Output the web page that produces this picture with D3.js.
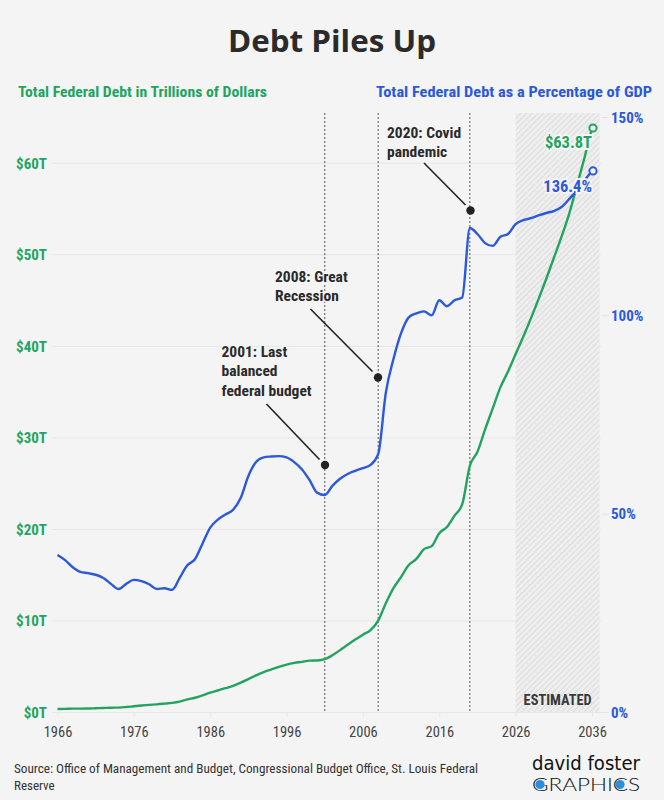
<!DOCTYPE html>
<html>
<head>
<meta charset="utf-8">
<script src="https://cdn.jsdelivr.net/npm/d3@7"></script>
<style>
  html, body { margin: 0; padding: 0; background: #f4f4f4; }
  svg { display: block; }
</style>
</head>
<body>
<script>
// ---------- DATA ----------
const years = d3.range(1966, 2037);
const debtTrillions = [
  0.32, 0.34, 0.37, 0.37, 0.38, 0.41, 0.44, 0.47, 0.48, 0.54,
  0.63, 0.71, 0.78, 0.83, 0.91, 1.00, 1.14, 1.37, 1.56, 1.82,
  2.12, 2.35, 2.60, 2.86, 3.21, 3.60, 4.00, 4.35, 4.64, 4.92,
  5.18, 5.37, 5.48, 5.61, 5.63, 5.77, 6.20, 6.76, 7.35, 7.91,
  8.45, 8.95, 9.99, 11.88, 13.53, 14.76, 16.05, 16.72, 17.79, 18.12,
  19.54, 20.21, 21.46, 22.67, 26.90, 28.43, 30.87, 33.17, 35.46, 37.2,
  39.1, 41.0, 43.0, 45.1, 47.3, 49.6, 51.9, 54.4, 57.4, 60.5,
  63.8
];
const debtPctGDP = [
  39.6, 38.3, 36.5, 35.3, 35.0, 34.6, 33.8, 32.3, 31.0, 32.3,
  33.3, 33.0, 32.2, 31.0, 31.2, 30.8, 33.8, 37.0, 38.5, 42.5,
  46.5, 48.5, 49.8, 51.0, 54.0, 59.5, 63.0, 64.2, 64.4, 64.5,
  64.2, 63.0, 61.2, 58.5, 55.3, 54.7, 57.0, 58.8, 60.0, 60.8,
  61.5, 62.3, 65.0, 80.5, 89.0, 95.5, 99.5, 100.5, 101.0, 100.0,
  103.8, 102.3, 103.8, 104.5, 122.0, 120.5, 118.2, 117.5, 119.8, 120.5,
  123.0, 124.0, 124.5, 125.2, 125.8, 126.3, 127.3, 129.3, 131.5, 134.0,
  136.4
];
const xTicks = [1966, 1976, 1986, 1996, 2006, 2016, 2026, 2036];
const leftTicks = [0, 10, 20, 30, 40, 50, 60];
const rightTicks = [0, 50, 100, 150];
const estimatedRange = [2026, 2037];
const events = [
  { year: 2001, lines: ["2001: Last", "balanced", "federal budget"] },
  { year: 2008, lines: ["2008: Great", "Recession"] },
  { year: 2020, lines: ["2020: Covid", "pandemic"] }
];
const endLabels = { debt: "$63.8T", pct: "136.4%" };

// ---------- SETUP ----------
const W = 664, H = 800;
const BG = "#f4f4f4";
const GREEN = "#23a45e", BLUE = "#2c58dc", DARK = "#2b2b2b";
const COND = "'Roboto Condensed','Liberation Sans Narrow','DejaVu Sans Condensed',sans-serif";

const svg = d3.select("body").append("svg").attr("width", W).attr("height", H);
svg.append("rect").attr("width", W).attr("height", H).attr("fill", BG);

const x = d3.scaleLinear().domain([1966, 2036]).range([57.5, 592]);
const yL = d3.scaleLinear().domain([0, 65]).range([712, 117]);
const yR = d3.scaleLinear().domain([0, 150]).range([712, 117]);
const plotTop = 113, plotLeft = 52, plotRight = 601;

// pattern for estimated band
const defs = svg.append("defs");
const pat = defs.append("pattern").attr("id", "hatch").attr("patternUnits", "userSpaceOnUse")
  .attr("width", 4).attr("height", 4).attr("patternTransform", "rotate(45)");
pat.append("rect").attr("width", 4).attr("height", 4).attr("fill", "#eeeeee");
pat.append("line").attr("x1", 0).attr("y1", 0).attr("x2", 0).attr("y2", 4)
  .attr("stroke", "#d2d2d2").attr("stroke-width", 1.3);

// Title
svg.append("text").attr("x", W / 2).attr("y", 52).attr("text-anchor", "middle")
  .attr("font-family", "'Open Sans',sans-serif").attr("font-weight", 700)
  .attr("font-size", 31).attr("fill", DARK)
  .attr("textLength", 208).attr("lengthAdjust", "spacingAndGlyphs")
  .text("Debt Piles Up");

// Subtitles
svg.append("text").attr("x", 18).attr("y", 97).attr("font-family", COND)
  .attr("font-weight", 700).attr("font-size", 15.5).attr("fill", GREEN)
  .attr("textLength", 249).attr("lengthAdjust", "spacingAndGlyphs")
  .text("Total Federal Debt in Trillions of Dollars");
svg.append("text").attr("x", 652).attr("y", 97).attr("text-anchor", "end").attr("font-family", COND)
  .attr("font-weight", 700).attr("font-size", 15.5).attr("fill", BLUE)
  .attr("textLength", 276).attr("lengthAdjust", "spacingAndGlyphs")
  .text("Total Federal Debt as a Percentage of GDP");

// Gridlines (left axis)
const gridG = svg.append("g")
  .attr("transform", `translate(${plotRight},0)`)
  .call(d3.axisLeft(yL).tickValues(leftTicks).tickSize(plotRight - plotLeft).tickFormat(""));
gridG.select(".domain").remove();
gridG.selectAll("line").attr("stroke", "#e6e6e6").attr("stroke-width", 1);

// Estimated band
svg.append("rect")
  .attr("x", x(estimatedRange[0])).attr("y", plotTop)
  .attr("width", x(estimatedRange[1]) - x(estimatedRange[0]))
  .attr("height", yL(0) - plotTop)
  .attr("fill", "url(#hatch)");
svg.append("text").attr("x", (x(estimatedRange[0]) + x(estimatedRange[1])) / 2).attr("y", 705)
  .attr("text-anchor", "middle").attr("font-family", COND).attr("font-weight", 700)
  .attr("font-size", 14).attr("fill", "#3a3a3a")
  .attr("textLength", 68).attr("lengthAdjust", "spacingAndGlyphs")
  .text("ESTIMATED");

// Left axis labels
const leftAx = svg.append("g").attr("transform", "translate(47,0)")
  .call(d3.axisLeft(yL).tickValues(leftTicks).tickSize(0).tickPadding(0).tickFormat(d => `$${d}T`));
leftAx.select(".domain").remove();
leftAx.selectAll("text").attr("font-family", COND).attr("font-weight", 700)
  .attr("font-size", 15).attr("fill", GREEN).attr("dy", "0.35em");

// Right axis
const rightAx = svg.append("g").attr("transform", `translate(${plotRight},0)`)
  .call(d3.axisRight(yR).tickValues(rightTicks).tickSize(8).tickPadding(2).tickFormat(d => `${d}%`));
rightAx.select(".domain").remove();
rightAx.selectAll("line").attr("stroke", "#e4e4e4");
rightAx.selectAll("text").attr("font-family", COND).attr("font-weight", 700)
  .attr("font-size", 15).attr("fill", BLUE).attr("dy", "0.35em");

// X axis
const xAx = svg.append("g").attr("transform", `translate(0,${yL(0)})`)
  .call(d3.axisBottom(x).tickValues(xTicks).tickSize(5).tickPadding(10).tickFormat(d3.format("d")));
xAx.select(".domain").remove();
xAx.selectAll("line").attr("stroke", "#e8e8e8");
xAx.selectAll("text").attr("font-family", COND).attr("font-size", 14.5).attr("fill", "#444");

// Event dotted lines
svg.append("g").selectAll("line").data(events).join("line")
  .attr("x1", d => x(d.year)).attr("x2", d => x(d.year))
  .attr("y1", plotTop).attr("y2", yL(0))
  .attr("stroke", "#555").attr("stroke-width", 1).attr("stroke-dasharray", "2,2");

// Lines
const lineDebt = d3.line().x((d, i) => x(years[i])).y(d => yL(d)).curve(d3.curveMonotoneX);
const linePct = d3.line().x((d, i) => x(years[i])).y(d => yR(d)).curve(d3.curveMonotoneX);
svg.append("path").datum(debtTrillions).attr("d", lineDebt)
  .attr("fill", "none").attr("stroke", GREEN).attr("stroke-width", 2.4).attr("stroke-linejoin", "round");
svg.append("path").datum(debtPctGDP).attr("d", linePct)
  .attr("fill", "none").attr("stroke", BLUE).attr("stroke-width", 2.4).attr("stroke-linejoin", "round");

// Annotations
const annPos = {
  2001: { tx: 221.5, ty: 356.5, lh: 19.5, l: [266.5, 404, 319.5, 459.5], dot: [325, 465] },
  2008: { tx: 275, ty: 281.5, lh: 19.5, l: [310.5, 309, 372.5, 371.5], dot: [378, 377.5] },
  2020: { tx: 387, ty: 137.5, lh: 19.5, l: [424, 163, 465.5, 205], dot: [470.5, 210.5] }
};
events.forEach(ev => {
  const p = annPos[ev.year];
  const t = svg.append("text").attr("font-family", COND).attr("font-weight", 700)
    .attr("font-size", 15.5).attr("fill", "#2a2a2a")
    .attr("stroke", BG).attr("stroke-width", 3).attr("paint-order", "stroke");
  ev.lines.forEach((ln, i) => {
    t.append("tspan").attr("x", p.tx).attr("y", p.ty + i * p.lh).text(ln);
  });
  svg.append("line").attr("x1", p.l[0]).attr("y1", p.l[1]).attr("x2", p.l[2]).attr("y2", p.l[3])
    .attr("stroke", "#222").attr("stroke-width", 1.6);
  svg.append("circle").attr("cx", p.dot[0]).attr("cy", p.dot[1]).attr("r", 4.2).attr("fill", "#222");
});

// End labels
const lastI = years.length - 1;
svg.append("text").attr("x", 592).attr("y", 148).attr("text-anchor", "end")
  .attr("font-family", COND).attr("font-weight", 700).attr("font-size", 16.5).attr("fill", GREEN)
  .attr("stroke", BG).attr("stroke-width", 4).attr("paint-order", "stroke")
  .text(endLabels.debt);
svg.append("text").attr("x", 592).attr("y", 192).attr("text-anchor", "end")
  .attr("font-family", COND).attr("font-weight", 700).attr("font-size", 16.5).attr("fill", BLUE)
  .attr("stroke", BG).attr("stroke-width", 4).attr("paint-order", "stroke")
  .text(endLabels.pct);
svg.append("circle").attr("cx", x(years[lastI]) + 1).attr("cy", yL(debtTrillions[lastI]))
  .attr("r", 3.6).attr("fill", BG).attr("stroke", GREEN).attr("stroke-width", 2);
svg.append("circle").attr("cx", x(years[lastI]) + 1).attr("cy", yR(debtPctGDP[lastI]))
  .attr("r", 3.6).attr("fill", BG).attr("stroke", BLUE).attr("stroke-width", 2);

// Source
const src = svg.append("text").attr("font-family", COND).attr("font-size", 13).attr("fill", "#333");
src.append("tspan").attr("x", 14).attr("y", 773)
  .attr("textLength", 464).attr("lengthAdjust", "spacingAndGlyphs")
  .text("Source: Office of Management and Budget, Congressional Budget Office, St. Louis Federal");
src.append("tspan").attr("x", 14).attr("y", 790).text("Reserve");

// Logo
svg.append("text").attr("x", 532).attr("y", 770).attr("font-family", "'DejaVu Sans',sans-serif")
  .attr("font-size", 20).attr("fill", "#111")
  .attr("textLength", 108).attr("lengthAdjust", "spacingAndGlyphs").text("david foster");
svg.append("text").attr("x", 532).attr("y", 791).attr("font-family", "'Lato','DejaVu Sans',sans-serif")
  .attr("font-weight", 300).attr("font-size", 17).attr("fill", "#111")
  .attr("textLength", 108).attr("lengthAdjust", "spacingAndGlyphs").text("GRAPHICS");
svg.append("circle").attr("cx", 540).attr("cy", 784.5).attr("r", 4.6).attr("fill", "#2b8fd8");
svg.append("circle").attr("cx", 620).attr("cy", 784.5).attr("r", 4.6).attr("fill", "#2b8fd8");
</script>
</body>
</html>
